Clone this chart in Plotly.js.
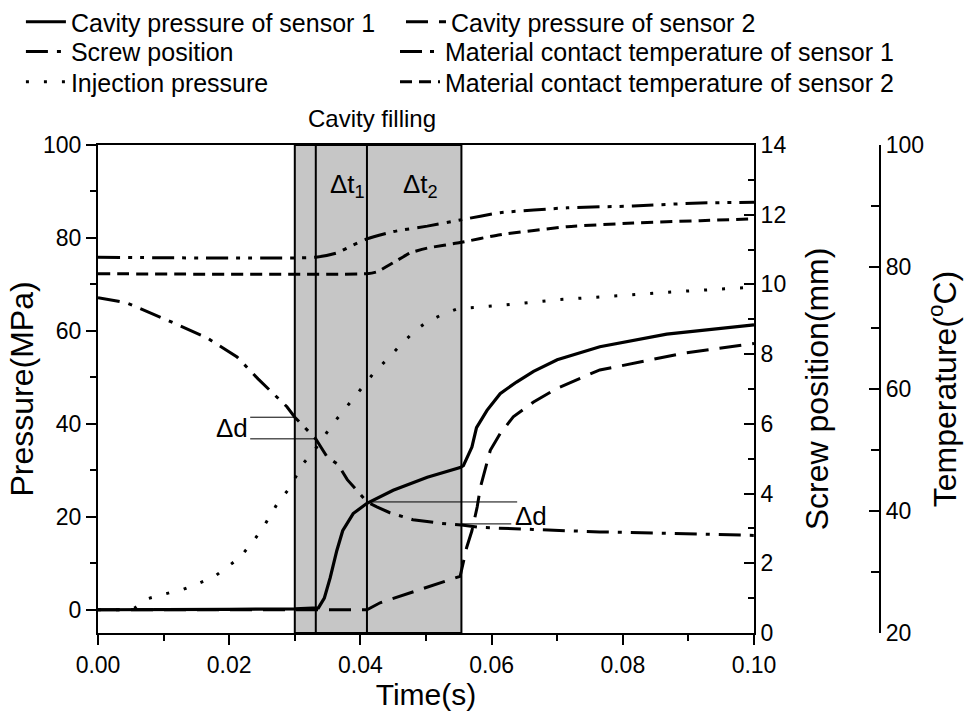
<!DOCTYPE html>
<html>
<head>
<meta charset="utf-8">
<script src="https://cdn.plot.ly/plotly-3.0.1.min.js"></script>
<style>html,body{margin:0;padding:0;background:#fff;}#chart{width:968px;height:719px;}</style>
</head>
<body>
<div id="chart"></div>
<script>
// ---- data ----
const seriesNames = [
  "Cavity pressure of sensor 1",
  "Cavity pressure of sensor 2",
  "Screw position",
  "Material contact temperature of sensor 1",
  "Injection pressure",
  "Material contact temperature of sensor 2"
];
// Cavity pressure sensor 1 (MPa)
const s1Time = [0, 0.010, 0.020, 0.030, 0.0336, 0.0345, 0.0354, 0.0364, 0.0373, 0.0389, 0.041, 0.045, 0.0502, 0.0552, 0.0557, 0.0570, 0.0577, 0.0593, 0.0613, 0.0638, 0.0664, 0.0700, 0.0765, 0.0867, 0.100];
const s1Pressure = [0, 0, 0.1, 0.2, 0.4, 2.5, 6.9, 12.7, 17.0, 20.7, 22.9, 25.7, 28.5, 30.6, 31.0, 35.0, 39.2, 42.9, 46.5, 49.0, 51.3, 53.8, 56.6, 59.3, 61.3];
// Cavity pressure sensor 2 (MPa)
const s2Time = [0, 0.0332, 0.041, 0.043, 0.0486, 0.0537, 0.0552, 0.0554, 0.0562, 0.0570, 0.0578, 0.0583, 0.0590, 0.0598, 0.0613, 0.0633, 0.0664, 0.0699, 0.0735, 0.0765, 0.0791, 0.0892, 0.100];
const s2Pressure = [0, 0, 0, 1.5, 4.1, 6.6, 7.2, 8.4, 13.4, 17.0, 22.1, 26.4, 30.0, 34.3, 37.9, 41.5, 44.7, 47.6, 49.8, 51.6, 52.3, 55.2, 57.3];
// Screw position (mm)
const screwTime = [0, 0.0044, 0.0105, 0.0166, 0.0212, 0.0244, 0.0288, 0.030, 0.0332, 0.0349, 0.0366, 0.038, 0.0396, 0.041, 0.0425, 0.0445, 0.048, 0.0521, 0.0554, 0.0582, 0.0663, 0.0765, 0.0867, 0.100];
const screwPos = [9.62, 9.47, 8.98, 8.47, 7.92, 7.29, 6.49, 6.19, 5.57, 5.06, 4.83, 4.40, 4.06, 3.76, 3.62, 3.45, 3.25, 3.15, 3.10, 3.03, 2.97, 2.90, 2.86, 2.80];
// Material contact temperature sensor 1 (°C)
const t1Time = [0, 0.0332, 0.0364, 0.0389, 0.041, 0.045, 0.0502, 0.0552, 0.0613, 0.0715, 0.0816, 0.0918, 0.100];
const t1Temp = [81.6, 81.6, 82.3, 83.6, 84.6, 85.8, 86.7, 87.7, 88.9, 89.7, 90.0, 90.5, 90.6];
// Injection pressure (MPa)
const injTime = [0, 0.0034, 0.0056, 0.0076, 0.0102, 0.013, 0.0152, 0.0178, 0.0195, 0.0216, 0.0238, 0.0253, 0.0274, 0.0291, 0.0313, 0.0331, 0.0357, 0.0383, 0.0402, 0.0419, 0.0438, 0.0465, 0.0483, 0.0502, 0.0526, 0.0549, 0.0581, 0.061, 0.0637, 0.070, 0.080, 0.090, 0.100];
const injPressure = [0, 0, 0.4, 2.4, 3.4, 4.4, 5.6, 7.2, 9.0, 11.2, 15.0, 18.0, 23.0, 26.0, 31.5, 34.5, 39.8, 44.5, 47.7, 50.7, 53.6, 57.5, 60.0, 62.0, 63.6, 64.8, 65.1, 65.4, 65.8, 66.7, 67.7, 68.6, 69.4];
// Material contact temperature sensor 2 (°C)
const t2Time = [0, 0.041, 0.0425, 0.045, 0.0476, 0.0502, 0.0552, 0.0613, 0.0715, 0.0816, 0.0918, 0.100];
const t2Temp = [78.9, 78.9, 79.2, 80.7, 82.3, 83.1, 84.0, 85.3, 86.6, 87.2, 87.6, 87.9];

// Phase boundaries (s)
const phaseBounds = [0.030, 0.0332, 0.041, 0.0554];
// Δd marks: screw position values at phase boundaries (mm)
const deltaD1 = [6.19, 5.57];
const deltaD2 = [3.76, 3.13];

const xTicks = [0, 0.02, 0.04, 0.06, 0.08, 0.10];
const pressureTicks = [0, 20, 40, 60, 80, 100];
const screwTicks = [0, 2, 4, 6, 8, 10, 12, 14];
const tempTicks = [20, 40, 60, 80, 100];

// ---- chart ----
const FONT = "Arial, 'Liberation Sans', sans-serif";
const W = 3;
const traces = [
  {x: s1Time, y: s1Pressure, name: seriesNames[0], yaxis: 'y', legend: 'legend',
   mode: 'lines', line: {color: '#000', width: 3.2, dash: 'solid'}},
  {x: s2Time, y: s2Pressure, name: seriesNames[1], yaxis: 'y', legend: 'legend2',
   mode: 'lines', line: {color: '#000', width: W, dash: '22px,11px'}},
  {x: screwTime, y: screwPos, name: seriesNames[2], yaxis: 'y2', legend: 'legend3',
   mode: 'lines', line: {color: '#000', width: W, dash: '22px,9px,4px,9px'}},
  {x: t1Time, y: t1Temp, name: seriesNames[3], yaxis: 'y3', legend: 'legend4',
   mode: 'lines', line: {color: '#000', width: W, dash: '22px,8px,4px,8px,4px,8px', shape: 'spline', smoothing: 0.5}},
  {x: injTime, y: injPressure, name: seriesNames[4], yaxis: 'y', legend: 'legend5',
   mode: 'lines', line: {color: '#000', width: W, dash: '3px,15px'}},
  {x: t2Time, y: t2Temp, name: seriesNames[5], yaxis: 'y3', legend: 'legend6',
   mode: 'lines', line: {color: '#000', width: W, dash: '12px,7px', shape: 'spline', smoothing: 0.5}}
];

const shapes = [
  {type: 'rect', xref: 'x', yref: 'paper', x0: phaseBounds[0], x1: phaseBounds[3], y0: 0, y1: 1,
   fillcolor: '#c6c6c6', line: {color: '#000', width: 2}, layer: 'below'},
  {type: 'line', xref: 'x', yref: 'paper', x0: phaseBounds[1], x1: phaseBounds[1], y0: 0, y1: 1,
   line: {color: '#000', width: 2}, layer: 'below'},
  {type: 'line', xref: 'x', yref: 'paper', x0: phaseBounds[2], x1: phaseBounds[2], y0: 0, y1: 1,
   line: {color: '#000', width: 2}, layer: 'below'},
  // Δd (left)
  {type: 'line', xref: 'x', yref: 'y2', x0: 0.0232, x1: phaseBounds[0], y0: deltaD1[0], y1: deltaD1[0],
   line: {color: '#000', width: 1}},
  {type: 'line', xref: 'x', yref: 'y2', x0: 0.0232, x1: phaseBounds[1], y0: deltaD1[1], y1: deltaD1[1],
   line: {color: '#000', width: 1}},
  // Δd (right)
  {type: 'line', xref: 'x', yref: 'y2', x0: phaseBounds[2], x1: 0.0639, y0: deltaD2[0], y1: deltaD2[0],
   line: {color: '#000', width: 1}},
  {type: 'line', xref: 'x', yref: 'y2', x0: phaseBounds[3], x1: 0.0630, y0: deltaD2[1], y1: deltaD2[1],
   line: {color: '#000', width: 1}}
];

const annFont = {family: FONT, size: 26, color: '#000'};
const annotations = [
  {text: 'Cavity filling', xref: 'x', yref: 'paper', x: 0.0418, y: 1.022, yanchor: 'bottom',
   showarrow: false, font: {family: FONT, size: 24, color: '#000'}},
  {text: 'Δt<sub>1</sub>', xref: 'x', yref: 'y', x: 0.0380, y: 91.3, showarrow: false, font: annFont},
  {text: 'Δt<sub>2</sub>', xref: 'x', yref: 'y', x: 0.0492, y: 91.3, showarrow: false, font: annFont},
  {text: 'Δd', xref: 'x', yref: 'y2', x: 0.0232, y: (deltaD1[0] + deltaD1[1]) / 2, xanchor: 'right',
   showarrow: false, font: annFont},
  {text: 'Δd', xref: 'x', yref: 'y2', x: 0.0632, y: deltaD2[1] + 0.22, xanchor: 'left',
   showarrow: false, font: annFont}
];

const tickFont = {family: FONT, size: 23, color: '#000'};
const titleFont = {family: FONT, size: 30, color: '#000'};
const yTitleFont = {family: FONT, size: 32, color: '#000'};
const legendFont = {family: FONT, size: 25, color: '#000'};

function legendAt(x, y) {
  return {x: x, y: y, xanchor: 'left', yanchor: 'middle', orientation: 'v',
    font: legendFont, bgcolor: 'rgba(0,0,0,0)', itemwidth: 40, tracegroupgap: 0};
}

const layout = {
  width: 968, height: 719,
  margin: {l: 98, r: 50, t: 145, b: 86, autoexpand: false},
  paper_bgcolor: '#fff', plot_bgcolor: '#fff',
  font: {family: FONT, color: '#000'},
  showlegend: true,
  legend: legendAt(-0.094, 1.252),
  legend2: legendAt(0.3695, 1.252),
  legend3: legendAt(-0.094, 1.191),
  legend4: legendAt(0.3622, 1.191),
  legend5: legendAt(-0.094, 1.129),
  legend6: legendAt(0.3622, 1.129),
  xaxis: {
    domain: [0, 0.8], range: [0, 0.1], tickvals: xTicks, tickformat: '.2f',
    ticks: 'outside', ticklen: 10, tickwidth: 2, tickcolor: '#000',
    minor: {dtick: 0.01, tick0: 0, ticks: 'outside', ticklen: 6, tickwidth: 2, tickcolor: '#000'},
    showline: true, linewidth: 2, linecolor: '#000', mirror: true,
    showgrid: false, zeroline: false, tickfont: tickFont,
    title: {text: 'Time(s)', font: titleFont, standoff: 2}
  },
  yaxis: {
    range: [-5, 100], tickvals: pressureTicks,
    ticks: 'outside', ticklen: 10, tickwidth: 2, tickcolor: '#000',
    minor: {dtick: 10, tick0: 0, ticks: 'outside', ticklen: 6, tickwidth: 2, tickcolor: '#000'},
    showline: true, linewidth: 2, linecolor: '#000',
    showgrid: false, zeroline: false, tickfont: tickFont,
    title: {text: 'Pressure(MPa)', font: yTitleFont, standoff: 0}
  },
  yaxis2: {
    overlaying: 'y', side: 'right', anchor: 'x', range: [0, 14], tickvals: screwTicks,
    ticks: 'inside', ticklen: 10, tickwidth: 2, tickcolor: '#000',
    minor: {dtick: 1, tick0: 0, ticks: 'inside', ticklen: 6, tickwidth: 2, tickcolor: '#000'},
    showline: true, linewidth: 2, linecolor: '#000',
    showgrid: false, zeroline: false, tickfont: tickFont,
    title: {text: 'Screw position(mm)', font: yTitleFont, standoff: 20}
  },
  yaxis3: {
    overlaying: 'y', side: 'right', anchor: 'free', position: 0.9537, range: [20, 100], tickvals: tempTicks,
    ticks: 'inside', ticklen: 10, tickwidth: 2, tickcolor: '#000',
    minor: {dtick: 10, tick0: 0, ticks: 'inside', ticklen: 8, tickwidth: 2, tickcolor: '#000'},
    showline: true, linewidth: 2, linecolor: '#000',
    showgrid: false, zeroline: false, tickfont: tickFont,
    title: {text: 'Temperature(<sup>o</sup>C)', font: yTitleFont, standoff: 10}
  },
  shapes: shapes,
  annotations: annotations
};

Plotly.newPlot('chart', traces, layout, {displayModeBar: false, staticPlot: true});
</script>
</body>
</html>
